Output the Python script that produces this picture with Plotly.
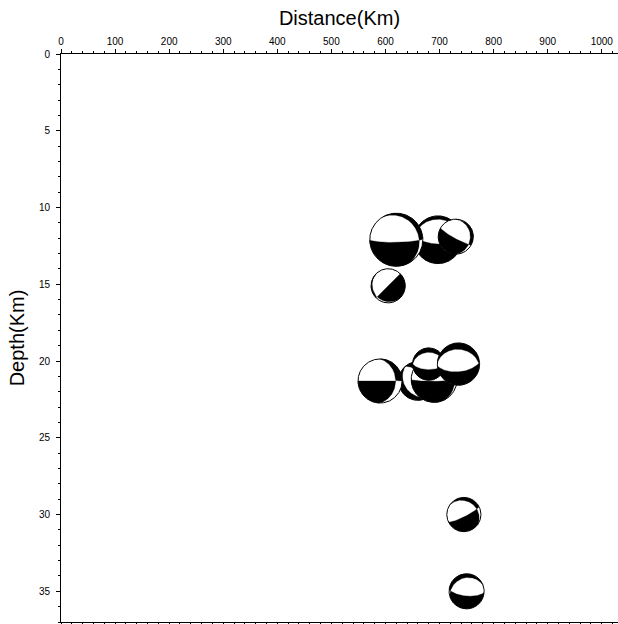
import numpy as np
import plotly.graph_objects as go

# ---- data ----
distance_km = [697, 620, 730, 605, 660, 590, 690, 680, 735, 745, 750]
depth_km = [12.1, 12.1, 11.9, 15.1, 21.3, 21.3, 21.2, 20.2, 20.2, 30.0, 35.0]
magnitude = [5.3, 5.9, 3.9, 3.8, 4.3, 4.9, 5.1, 3.6, 4.7, 3.8, 3.9]
strike = [95, 330, 0, 135, 320, 0, 330, 90, 85, 305, 95]
dip = [75, 17, 18, 10, 60, 30, 14, 62, 60, 22, 68]
rake = [-90, -30, -30, 180, -90, 0, -30, -90, -95, -30, -80]

x_ticks = list(range(0, 1001, 100))
y_ticks = list(range(0, 36, 5))

# ---- layout geometry ----
W, H = 618, 624
ML, MR, MT, MB = 61, 0, 54, 2
X_RANGE = [0, 1030]
Y_RANGE = [37, 0]
px_x = (W - ML - MR) / (X_RANGE[1] - X_RANGE[0])
px_y = (H - MT - MB) / abs(Y_RANGE[0] - Y_RANGE[1])
PX_PER_MAG = 4.5  # beachball radius in pixels per magnitude unit

FONT = "Liberation Sans, Arial, Helvetica, sans-serif"


def _basis(a):
    tmp = np.array([1.0, 0, 0]) if abs(a[0]) < 0.9 else np.array([0, 1.0, 0])
    e1 = np.cross(a, tmp)
    e1 /= np.linalg.norm(e1)
    e2 = np.cross(a, e1)
    return e1, e2


def beach_polys(s, d, r):
    """Compressional regions of a double couple, lower hemisphere, Schmidt net."""
    s, d, r = np.radians([s, d, r])
    n = np.array([-np.sin(d) * np.sin(s), np.sin(d) * np.cos(s), -np.cos(d)])
    u = np.array([np.cos(r) * np.cos(s) + np.cos(d) * np.sin(r) * np.sin(s),
                  np.cos(r) * np.sin(s) - np.cos(d) * np.sin(r) * np.cos(s),
                  -np.sin(r) * np.sin(d)])
    down = np.array([0, 0, 1.0])
    t = np.linspace(0, 2 * np.pi, 2881)
    polys = []
    for sg in (1, -1):
        A = [sg * n, sg * u, down]
        pts = []
        for i in range(3):
            a = A[i] / np.linalg.norm(A[i])
            e1, e2 = _basis(a)
            P = np.outer(np.cos(t), e1) + np.outer(np.sin(t), e2)
            m = np.ones(len(t), bool)
            for j in range(3):
                if j != i:
                    m &= (P @ A[j]) >= -1e-9
            pts.append(P[m])
        pts = np.vstack(pts)
        if len(pts) < 3:
            continue
        c = pts.mean(0)
        if np.linalg.norm(c) < 1e-9:
            continue
        c /= np.linalg.norm(c)
        f1, f2 = _basis(c)
        ang = np.arctan2(pts @ f2, pts @ f1)
        pts = pts[np.argsort(ang)]
        D = np.clip(pts[:, 2], 0, 1)
        plunge = np.arcsin(D)
        trend = np.arctan2(pts[:, 1], pts[:, 0])
        rr = np.sqrt(2) * np.sin((np.pi / 2 - plunge) / 2)
        polys.append((rr * np.sin(trend), rr * np.cos(trend)))
    return polys


fig = go.Figure()
theta = np.linspace(0, 2 * np.pi, 361)
for cx, cy, mag, s, d, r in zip(distance_km, depth_km, magnitude, strike, dip, rake):
    R = mag * PX_PER_MAG
    sx, sy = R / px_x, R / px_y
    fig.add_trace(go.Scatter(
        x=cx + sx * np.cos(theta), y=cy + sy * np.sin(theta),
        mode="lines", fill="toself", fillcolor="white",
        line=dict(color="black", width=1),
        hoverinfo="skip", showlegend=False))
    xs, ys = [], []
    for X, Y in beach_polys(s, d, r):
        xs += list(cx + X * sx) + [None]
        ys += list(cy - Y * sy) + [None]
    fig.add_trace(go.Scatter(
        x=xs, y=ys, mode="lines", fill="toself", fillcolor="black",
        line=dict(color="black", width=0.3),
        hoverinfo="skip", showlegend=False))

axis_common = dict(
    showline=True, linecolor="black", linewidth=1,
    ticks="outside", ticklen=4, tickwidth=1, tickcolor="black",
    showgrid=False, zeroline=False, automargin=False,
    tickfont=dict(family=FONT, size=10, color="black"),
)
fig.update_xaxes(
    range=X_RANGE, side="top", tickmode="array", tickvals=x_ticks,
    ticktext=[str(v) for v in x_ticks], mirror="ticks",
    minor=dict(ticks="outside", ticklen=2, dtick=20, tick0=0, tickcolor="black", showgrid=False),
    title=dict(text="Distance(Km)", font=dict(family=FONT, size=20, color="black"), standoff=5),
    **axis_common)
fig.update_yaxes(
    range=Y_RANGE, tickmode="array", tickvals=y_ticks,
    ticktext=[str(v) for v in y_ticks], ticklabelstandoff=4,
    minor=dict(ticks="outside", ticklen=2, dtick=1, tick0=0, tickcolor="black", showgrid=False),
    title=dict(text="Depth(Km)", font=dict(family=FONT, size=20, color="black"), standoff=8),
    **axis_common)
fig.update_layout(
    width=W, height=H, margin=dict(l=ML, r=MR, t=MT, b=MB),
    paper_bgcolor="white", plot_bgcolor="white",
    font=dict(family=FONT, color="black"),
)
fig.write_html("out.html", config={"displayModeBar": False},
               post_script="document.body.style.margin='0px';")
